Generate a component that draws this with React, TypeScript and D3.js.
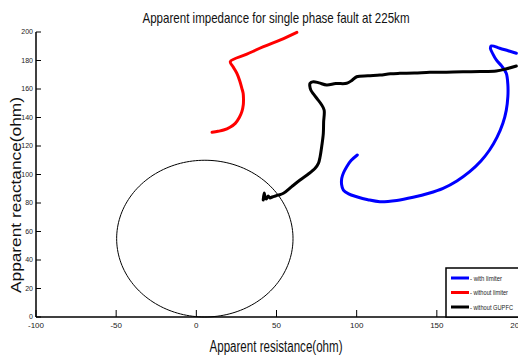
import React from "react";
import * as d3 from "d3";

const W = 518;
const H = 356;

const xTicks = [-100, -50, 0, 50, 100, 150, 200];
const yTicks = [0, 20, 40, 60, 80, 100, 120, 140, 160, 180, 200];

const titleText = "Apparent impedance for single phase fault at 225km";
const xLabel = "Apparent resistance(ohm)";
const yLabel = "Apparent reactance(ohm)";

const legendLabels = ["- with limiter", "- without limiter", "- without GUPFC"];
const legendWidths = [32, 38, 43];
const seriesColors = ["#0000ff", "#ff0000", "#000000"];

// [resistance, reactance]
const withLimiter: [number, number][] = [
  [100.4, 113.7], [96.5, 109.8], [93.8, 105.5], [91.8, 101.2], [90.7, 97.3], [90.6, 93.0],
  [91.7, 89.1], [95.0, 86.4], [100.0, 84.4], [107.0, 82.3], [114.5, 80.9], [125.0, 81.8],
  [135.2, 84.0], [145.0, 86.8], [153.9, 90.3], [162.5, 95.5], [170.5, 102.0], [177.5, 109.5],
  [182.9, 117.2], [187.5, 126.0], [191.2, 135.9], [193.3, 145.0], [194.3, 154.6], [194.3, 163.0],
  [193.3, 171.0], [190.5, 176.0], [187.1, 180.4], [185.0, 184.5], [183.4, 188.6], [184.0, 190.2],
  [189.2, 188.6], [194.5, 186.8], [199.6, 185.1],
];

const withoutLimiter: [number, number][] = [
  [9.8, 129.6], [13.5, 130.3], [17.0, 131.2], [21.0, 133.2], [24.3, 135.9], [26.8, 140.0],
  [28.4, 144.1], [29.3, 149.0], [29.4, 153.5], [29.2, 157.0], [28.4, 160.5], [27.0, 166.0],
  [25.3, 171.0], [23.0, 175.5], [21.2, 179.2], [31.5, 184.4], [41.9, 189.7], [52.5, 194.5],
  [62.7, 199.8],
];

const withoutGUPFC: [number, number][] = [
  [41.7, 82.1], [42.3, 87.0], [43.0, 83.5], [43.6, 82.8], [44.8, 84.9], [46.0, 83.5], [47.3, 84.2],
  [51.0, 85.5], [54.3, 86.8], [59.5, 91.5], [64.7, 96.1], [69.5, 100.0], [74.1, 104.4],
  [76.2, 108.0], [77.2, 112.5], [78.3, 120.5], [79.2, 128.9], [79.4, 137.0], [79.7, 145.3],
  [77.8, 149.5], [75.1, 153.5], [73.0, 156.5], [71.4, 159.3], [70.8, 161.8], [70.9, 164.0],
  [73.0, 165.1], [76.5, 164.3], [81.3, 162.8], [87.0, 163.8], [93.8, 164.0], [97.0, 166.0],
  [100.0, 168.6], [107.0, 169.3], [114.5, 169.8], [121.0, 170.7], [126.9, 171.0], [136.0, 171.2],
  [145.6, 171.7], [156.0, 171.8], [166.3, 172.1], [177.0, 172.2], [187.1, 172.6], [193.5, 174.2],
  [199.6, 176.1],
];

const circleCenter: [number, number] = [5.3, 55];
const circleRadius = 55;

export default function App() {
  const left = 36;
  const right = 517;
  const top = 32;
  const bottom = 317;

  const x = d3.scaleLinear().domain([-100, 200]).range([left, right]);
  const y = d3.scaleLinear().domain([0, 200]).range([bottom, top]);

  const line = d3
    .line<[number, number]>()
    .x((d) => x(d[0]))
    .y((d) => y(d[1]))
    .curve(d3.curveCatmullRom.alpha(0.5));

  const circlePts: [number, number][] = d3.range(0, 361, 2).map((a) => {
    const t = (a * Math.PI) / 180;
    return [circleCenter[0] + circleRadius * Math.cos(t), circleCenter[1] + circleRadius * Math.sin(t)];
  });
  const circleLine = d3
    .line<[number, number]>()
    .x((d) => x(d[0]))
    .y((d) => y(d[1]));

  const font = "'Liberation Sans Narrow', 'Liberation Sans', Arial, sans-serif";
  const series = [withLimiter, withoutLimiter, withoutGUPFC];

  const legX = 446;
  const legY = 268;

  return (
    <svg
      width={W}
      height={H}
      style={{ position: "absolute", left: 0, top: 0, background: "#fff" }}
    >
      <rect x={0} y={0} width={W} height={H} fill="#fff" />
      <defs>
        <clipPath id="plotclip">
          <rect x={left} y={top - 10} width={right - left + 2} height={bottom - top + 10} />
        </clipPath>
      </defs>

      {/* title */}
      <text
        x={276}
        y={23}
        textAnchor="middle"
        fontFamily={font}
        fontSize={15}
        fill="#111"
        textLength={267}
        lengthAdjust="spacingAndGlyphs"
      >
        {titleText}
      </text>

      {/* circle */}
      <path d={circleLine(circlePts) || ""} fill="none" stroke="#000" strokeWidth={1} />

      {/* series */}
      <g clipPath="url(#plotclip)">
        {series.map((s, i) => (
          <path
            key={i}
            d={line(s) || ""}
            fill="none"
            stroke={seriesColors[i]}
            strokeWidth={3}
            strokeLinejoin="round"
            strokeLinecap="round"
          />
        ))}
      </g>

      {/* axes */}
      <line x1={left} x2={right + 2} y1={bottom} y2={bottom} stroke="#000" strokeWidth={1.5} />
      <line x1={left} x2={left} y1={top} y2={bottom} stroke="#000" strokeWidth={1.5} />
      {xTicks.map((t) => (
        <g key={"x" + t}>
          <line x1={x(t)} x2={x(t)} y1={bottom} y2={bottom - 7} stroke="#000" strokeWidth={1} />
          <text
            x={x(t)}
            y={bottom + 11}
            textAnchor="middle"
            fontFamily={font}
            fontSize={8}
            fill="#222"
          >
            {t}
          </text>
        </g>
      ))}
      {yTicks.map((t) => (
        <g key={"y" + t}>
          <line x1={left} x2={left + 5} y1={y(t)} y2={y(t)} stroke="#000" strokeWidth={1} />
          <text
            x={left - 3}
            y={y(t) + 2}
            textAnchor="end"
            fontFamily={font}
            fontSize={7}
            fill="#222"
          >
            {t}
          </text>
        </g>
      ))}

      {/* axis labels */}
      <text
        x={276}
        y={352}
        textAnchor="middle"
        fontFamily={font}
        fontSize={16}
        fill="#111"
        textLength={133}
        lengthAdjust="spacingAndGlyphs"
      >
        {xLabel}
      </text>
      <text
        transform={`translate(21, 195) rotate(-90)`}
        textAnchor="middle"
        fontFamily="'Liberation Sans', Arial, sans-serif"
        fontSize={14}
        fill="#111"
        textLength={196}
        lengthAdjust="spacingAndGlyphs"
      >
        {yLabel}
      </text>

      {/* legend */}
      <rect x={legX} y={legY} width={W - legX + 4} height={bottom - legY} fill="#fff" stroke="#000" strokeWidth={1.5} />
      {legendLabels.map((lab, i) => {
        const ly = legY + 10 + i * 14.5;
        return (
          <g key={lab}>
            <line x1={legX + 5} x2={legX + 23} y1={ly} y2={ly} stroke={seriesColors[i]} strokeWidth={3} />
            <text
              x={legX + 24}
              y={ly + 2.5}
              fontFamily={font}
              fontSize={7}
              fill="#222"
              textLength={legendWidths[i]}
              lengthAdjust="spacingAndGlyphs"
            >
              {lab}
            </text>
          </g>
        );
      })}
    </svg>
  );
}
